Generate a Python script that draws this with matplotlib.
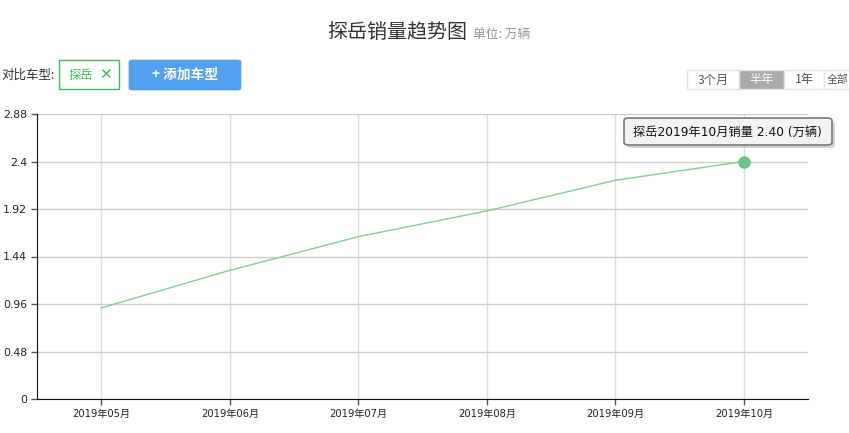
import matplotlib
matplotlib.use("Agg")
import matplotlib.pyplot as plt
from matplotlib.patches import FancyBboxPatch, Rectangle

plt.rcParams['font.family'] = ['Noto Sans CJK SC', 'DejaVu Sans']

# ---- data ----
months = ["2019年05月", "2019年06月", "2019年07月", "2019年08月", "2019年09月", "2019年10月"]
sales = [0.92, 1.30, 1.64, 1.90, 2.21, 2.40]
yticks = [0, 0.48, 0.96, 1.44, 1.92, 2.4, 2.88]
ytick_labels = ["0", "0.48", "0.96", "1.44", "1.92", "2.4", "2.88"]
range_buttons = ["3个月", "半年", "1年", "全部"]

W, H = 849, 433
fig = plt.figure(figsize=(W / 100, H / 100), dpi=100)

def fx(px):
    return px / W

def fy(py):
    return 1 - py / H

ax = fig.add_axes([fx(37), fy(399), fx(808) - fx(37), fy(114) - fy(399)])
x = list(range(len(months)))
line_color = "#7fd096"
ax.plot(x, sales, color=line_color, lw=1.0, zorder=3)
ax.plot([x[-1]], [sales[-1]], 'o', color="#6cc586", ms=8, zorder=4, mec="#6cc586")
ax.set_xlim(-0.5, len(months) - 0.5)
ax.set_ylim(0, 2.88)
ax.set_yticks(yticks)
ax.set_yticklabels(ytick_labels, family=['DejaVu Sans', 'Noto Sans CJK SC'], fontsize=7.8, color="#222")
ax.set_xticks(x)
ax.set_xticklabels(months, family=['DejaVu Sans', 'Noto Sans CJK SC'], fontsize=7.2, color="#222")
ax.yaxis.grid(True, color="#cccccc", lw=1.0)
ax.xaxis.grid(True, color="#dddddd", lw=1.0)
ax.set_axisbelow(True)
for s in ["top", "right"]:
    ax.spines[s].set_visible(False)
ax.spines["left"].set_color("#111")
ax.spines["bottom"].set_color("#111")
ax.tick_params(axis='both', length=4, width=1, color="#555", pad=3)

# ---- title ----
fig.text(fx(467), fy(33), "探岳销量趋势图", ha='right', va='center', fontsize=14.4, color="#333")
fig.text(fx(473), fy(35), "单位: 万辆", ha='left', va='center', fontsize=9.2, color="#999")

# ---- left controls ----
fig.text(fx(1), fy(75), "对比车型:", ha='left', va='center', fontsize=9.0, color="#333")
fig.add_artist(Rectangle((fx(59), fy(89)), fx(119) - fx(59), fy(60) - fy(89),
                         transform=fig.transFigure, fc="white", ec="#3dbb5e", lw=1.0))
fig.text(fx(81), fy(75), "探岳", ha='center', va='center', fontsize=8.8, color="#3dbb5e")
fig.text(fx(105), fy(75), "✕", ha='center', va='center', fontsize=11, color="#3dbb5e",
         family=['DejaVu Sans'], fontweight='bold')
fig.add_artist(FancyBboxPatch((fx(129), fy(90)), fx(241) - fx(129), fy(60) - fy(90),
                              boxstyle="round,pad=0,rounding_size=0.004",
                              transform=fig.transFigure, fc="#53a0f0", ec="#53a0f0", lw=0.5))
fig.text(fx(185), fy(75), "+ 添加车型", ha='center', va='center', fontsize=9.9, color="white",
         fontweight='bold')

# ---- right range buttons ----
edges = [687, 739, 784, 824, 880]
for i, lab in enumerate(range_buttons):
    sel = (i == 1)
    fig.add_artist(Rectangle((fx(edges[i]), fy(89)), fx(edges[i + 1]) - fx(edges[i]), fy(70) - fy(89),
                             transform=fig.transFigure, fc="#aaaaaa" if sel else "white",
                             ec="#e2e2e2", lw=1.0))
    if i == 3:
        fig.text(fx(848), fy(80), lab, ha='right', va='center', fontsize=7.8, color="#555")
    else:
        cx = (edges[i] + edges[i + 1]) / 2
        fig.text(fx(cx), fy(80), lab, ha='center', va='center', fontsize=8.8,
                 color="white" if sel else "#555")

# ---- tooltip ----
fig.add_artist(FancyBboxPatch((fx(627), fy(148)), fx(835) - fx(627), fy(121) - fy(148),
                              boxstyle="round,pad=0,rounding_size=0.006",
                              transform=fig.transFigure, fc="#aaaaaa", ec="none", alpha=0.5))
fig.add_artist(FancyBboxPatch((fx(624), fy(145)), fx(832) - fx(624), fy(118) - fy(145),
                              boxstyle="round,pad=0,rounding_size=0.006",
                              transform=fig.transFigure, fc="#f3f3f3", ec="#7a7a7a", lw=1.2))
fig.text(fx(727), fy(132), "探岳2019年10月销量 2.40 (万辆)", ha='center', va='center',
         fontsize=8.8, color="#111", family=['DejaVu Sans', 'Noto Sans CJK SC'])

fig.savefig("out.png", dpi=100)
